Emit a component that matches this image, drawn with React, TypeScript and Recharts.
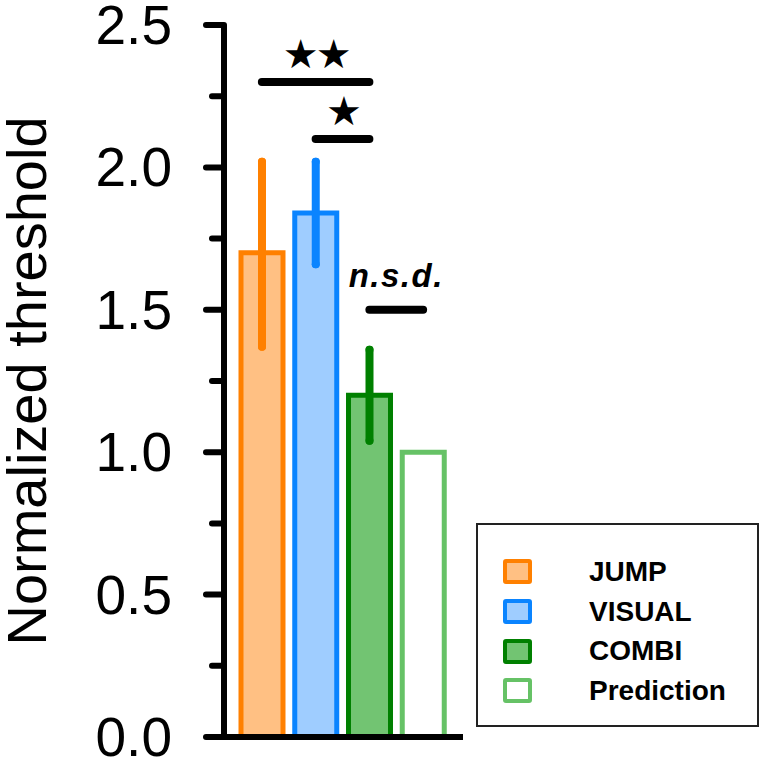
import { Bar, BarChart, ErrorBar, Label, Legend, ReferenceLine, XAxis, YAxis } from "recharts"

const groups = ["JUMP", "VISUAL", "COMBI", "Prediction"]
const means = [1.7, 1.84, 1.2, 1.0]
const errLow = [0.33, 0.18, 0.16, null]
const errHigh = [0.32, 0.18, 0.16, null]

const yTicks = [0, 0.25, 0.5, 0.75, 1, 1.25, 1.5, 1.75, 2, 2.25, 2.5]

// significance bars: from group, to group, height, text
const sigFrom = ["JUMP", "VISUAL", "COMBI"]
const sigTo = ["COMBI", "COMBI", "Prediction"]
const sigY = [2.3, 2.1, 1.5]
const sigText = ["★★", "★", "n.s.d."]

const strokes = ["#ff8000", "#0a84ff", "#008000", "#66c266"]
const fills = ["#ffc083", "#9fcdff", "#72c472", "#ffffff"]

const rows = groups.map((g, i) => {
  const row: Record<string, any> = { group: g, [g]: means[i] }
  if (errLow[i] != null) row[g + "Err"] = [errLow[i], errHigh[i]]
  return row
})

const FONT = "'Liberation Sans', Arial, Helvetica, sans-serif"

function YTick({ x, y, payload }: any) {
  const v = payload.value as number
  const major = Math.abs(v * 2 - Math.round(v * 2)) < 1e-6
  return (
    <g>
      <line x1={x - (major ? 18 : 12)} x2={x} y1={y} y2={y} stroke="#000" strokeWidth={6} strokeLinecap="round" />
      {major && (
        <text x={x - 52} y={y} textAnchor="end" dominantBaseline="central" fontSize={55} fontFamily={FONT} fill="#000">
          {v.toFixed(1)}
        </text>
      )}
    </g>
  )
}

function YTitle({ viewBox }: any) {
  const cx = viewBox.x + 26
  const cy = viewBox.y + viewBox.height / 2
  return (
    <text x={cx} y={cy} transform={`rotate(-90 ${cx} ${cy})`} textAnchor="middle" dominantBaseline="central" fontSize={56} fontFamily={FONT} fill="#000">
      Normalized threshold
    </text>
  )
}

function LegendBox() {
  return (
    <div style={{ boxSizing: "border-box", width: "100%", height: "100%", border: "2px solid #222", background: "#fff", paddingTop: 27, paddingLeft: 25 }}>
      {groups.map((g, i) => (
        <div key={g} style={{ display: "flex", alignItems: "center", height: 39.7 }}>
          <span style={{ boxSizing: "border-box", width: 29, height: 25, border: `4px solid ${strokes[i]}`, background: fills[i], borderRadius: 3 }} />
          <span style={{ marginLeft: 57, fontFamily: FONT, fontWeight: 700, fontSize: 28, color: "#000" }}>{g}</span>
        </div>
      ))}
    </div>
  )
}

export default function App() {
  return (
    <div style={{ position: "absolute", left: 0, top: 0, background: "#fff" }}>
      <BarChart width={765} height={761} data={rows} margin={{ top: 25, right: 302, bottom: 0, left: 0 }} barSize={42}>
        <XAxis dataKey="group" tick={false} tickLine={false} height={24} padding={{ left: 11, right: 13 }} axisLine={{ stroke: "#000", strokeWidth: 6 }} />
        <YAxis
          type="number"
          domain={[0, 2.5]}
          ticks={yTicks}
          interval={0}
          width={224}
          tickSize={0}
          tickMargin={0}
          tickLine={false}
          axisLine={{ stroke: "#000", strokeWidth: 6 }}
          tick={<YTick />}
        >
          <Label content={<YTitle />} />
        </YAxis>
        {groups.map((g, i) => (
          <Bar key={g} dataKey={g} name={g} stackId="s" fill={fills[i]} stroke={strokes[i]} strokeWidth={5} isAnimationActive={false}>
            {errLow[i] != null && <ErrorBar dataKey={g + "Err"} width={0} stroke={strokes[i]} strokeWidth={8} strokeLinecap="round" />}
          </Bar>
        ))}
        {sigY.map((v, i) => {
          const nsd = sigText[i] === "n.s.d."
          return (
            <ReferenceLine
              key={i}
              segment={[{ x: sigFrom[i], y: v }, { x: sigTo[i], y: v }]}
              stroke="#000"
              strokeWidth={8}
              strokeLinecap="round"
              ifOverflow="visible"
            >
              <Label
                value={sigText[i]}
                position="top"
                offset={nsd ? 23 : 14}
                fill="#000"
                fontSize={nsd ? 33 : 40}
                fontFamily={nsd ? FONT : "'DejaVu Sans', sans-serif"}
                fontWeight={700}
                fontStyle={nsd ? "italic" : "normal"}
                letterSpacing={nsd ? 1.5 : -3}
              />
            </ReferenceLine>
          )
        })}
        <Legend
          layout="vertical"
          align="center"
          verticalAlign="middle"
          content={<LegendBox />}
          wrapperStyle={{ left: 476, top: 523, width: 283, height: 204 }}
        />
      </BarChart>
    </div>
  )
}
